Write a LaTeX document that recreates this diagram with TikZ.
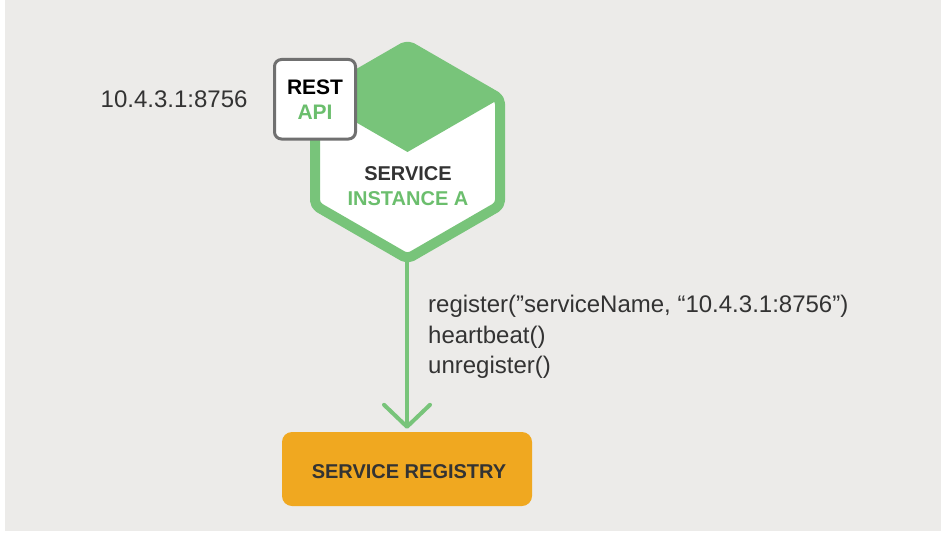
\documentclass[tikz,border=0pt]{standalone}
\usepackage{fontspec}
\setmainfont{Liberation Sans}
\usetikzlibrary{arrows.meta}
\definecolor{bg}{HTML}{ECEBE9}
\definecolor{hexgreen}{HTML}{78C47A}
\definecolor{txtgreen}{HTML}{6BBE6D}
\definecolor{regorange}{HTML}{F0A820}
\definecolor{boxgray}{HTML}{707070}
\definecolor{darktxt}{HTML}{333333}
\tikzset{
  plain/.style={font=\fontsize{24}{29}\selectfont, text=darktxt, inner sep=0pt, anchor=base west},
  boldlbl/.style={font=\bfseries\fontsize{20}{24}\selectfont, inner sep=0pt, anchor=base},
  hexline/.style={draw=hexgreen, line width=10pt, line join=round, rounded corners=5pt},
  apibox/.style={draw=boxgray, fill=white, line width=3pt, rounded corners=7pt},
  regbox/.style={fill=regorange, rounded corners=10pt, minimum width=250pt, minimum height=74pt, inner sep=0pt},
  flow/.style={draw=hexgreen, line width=4pt, line cap=round,
    -{Straight Barb[length=22pt,width=46pt,line width=4pt,round]}}
}
\begin{document}
\begin{tikzpicture}[x=1pt,y=-1pt]
\useasboundingbox (0,0) rectangle (941,532);
\fill[white] (0,0) rectangle (941,532);
\fill[bg] (5,0) rectangle (941,531);
% hexagon
\coordinate (hc) at (407.5,152);
\coordinate (ht) at (407.5,45.2);
\coordinate (hur) at (500,98.6);
\coordinate (hlr) at (500,205.4);
\coordinate (hb) at (407.5,258.8);
\coordinate (hll) at (315,205.4);
\coordinate (hul) at (315,98.6);
\fill[white] (ht) -- (hur) -- (hlr) -- (hb) -- (hll) -- (hul) -- cycle;
\fill[hexgreen] (ht) -- (hur) -- (hc) -- (hul) -- cycle;
\draw[hexline] (ht) -- (hur) -- (hlr) -- (hb) -- (hll) -- (hul) -- cycle;
% REST API box
\draw[apibox] (274.5,59.5) rectangle (355.5,139);
\node[boldlbl, text=black, font=\bfseries\fontsize{21}{25}\selectfont] (rest) at (315,95) {REST};
\node[boldlbl, text=txtgreen, font=\bfseries\fontsize{21}{25}\selectfont] (api) at (315,119) {API};
% hexagon labels
\node[boldlbl, text=darktxt] (svc) at (408,180) {SERVICE};
\node[boldlbl, text=txtgreen] (inst) at (408,205) {INSTANCE A};
% address
\node[plain] (addr) at (100.5,107) {10.4.3.1:8756};
% registry
\node[regbox] (reg) at (407,469) {};
\node[boldlbl, text=darktxt] (regtxt) at (409,478) {SERVICE REGISTRY};
% arrow
\coordinate (hexbot) at (407,262);
\draw[flow, shorten >=3pt] (hexbot) -- (reg.north -| hexbot);
% calls
\node[plain] (c1) at (428,312) {register(”serviceName, “10.4.3.1:8756”)};
\node[plain] (c2) at (428,343) {heartbeat()};
\node[plain] (c3) at (428,373) {unregister()};
\end{tikzpicture}
\end{document}
